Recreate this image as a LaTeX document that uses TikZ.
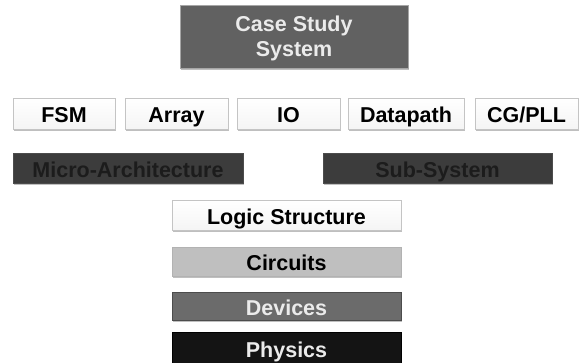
\documentclass[tikz,border=0pt]{standalone}
\usepackage{fontspec}
\setmainfont{Liberation Sans}
\usetikzlibrary{shadows}
\definecolor{topfill}{HTML}{616161}
\definecolor{lighttext}{HTML}{EBEBEB}
\definecolor{darkfill}{HTML}{3C3C3C}
\definecolor{darktext}{HTML}{1C1C1C}
\definecolor{whiteborder}{HTML}{C4C4C4}
\definecolor{circfill}{HTML}{BFBFBF}
\definecolor{devfill}{HTML}{6B6B6B}
\definecolor{physfill}{HTML}{141414}
\tikzset{
  box/.style={rectangle, inner sep=0pt, align=center,
    font=\fontsize{21.5}{25}\selectfont\bfseries,
    drop shadow={shadow xshift=1pt, shadow yshift=-2pt, opacity=0.25, fill=black}},
  oneline/.style={text height=19pt, text depth=0pt},
  whitebox/.style={box, oneline, draw=whiteborder, line width=0.8pt, top color=white, bottom color=gray!8, text=black},
  darkbox/.style={box, oneline, draw=gray!60!black, line width=0.8pt, fill=darkfill, text=darktext},
  topbox/.style={box, draw=gray!70, line width=0.6pt, fill=topfill, text=lighttext},
  circbox/.style={box, oneline, draw=gray!60, line width=0.8pt, fill=circfill, text=black},
  devbox/.style={box, oneline, draw=gray!60!black, line width=0.6pt, fill=devfill, text=lighttext},
  physbox/.style={box, oneline, draw=black, line width=0.6pt, fill=physfill, text=lighttext},
}
\begin{document}
\begin{tikzpicture}[x=1pt, y=-1pt]
\useasboundingbox (0,0) rectangle (581,363);
\node[topbox, minimum width=228pt, minimum height=63pt] (css) at (294,36.5) {\rule{0pt}{19.5pt}Case Study\\System};
\node[whitebox, minimum width=102pt, minimum height=31pt] (fsm) at (64,113.5) {FSM};
\node[whitebox, minimum width=103pt, minimum height=31pt] (arr) at (176.5,113.5) {Array};
\node[whitebox, minimum width=103pt, minimum height=31pt] (io) at (288.5,113.5) {IO};
\node[whitebox, minimum width=116pt, minimum height=31pt] (dp) at (406,113.5) {Datapath};
\node[whitebox, minimum width=103pt, minimum height=31pt] (cg) at (526.5,113.5) {CG/PLL};
\node[darkbox, minimum width=230pt, minimum height=30pt] (ma) at (128,168) {Micro-Architecture};
\node[darkbox, minimum width=229pt, minimum height=30pt] (ss) at (437.5,168) {Sub-System};
\node[whitebox, minimum width=229pt, minimum height=30pt] (ls) at (286.5,215) {Logic Structure};
\node[circbox, minimum width=229pt, minimum height=29pt] (ci) at (286.5,261.5) {Circuits};
\node[devbox, minimum width=229pt, minimum height=28pt] (de) at (286.5,306) {Devices};
\node[physbox, minimum width=229pt, minimum height=31pt] (ph) at (286.5,347.5) {Physics};
\end{tikzpicture}
\end{document}
